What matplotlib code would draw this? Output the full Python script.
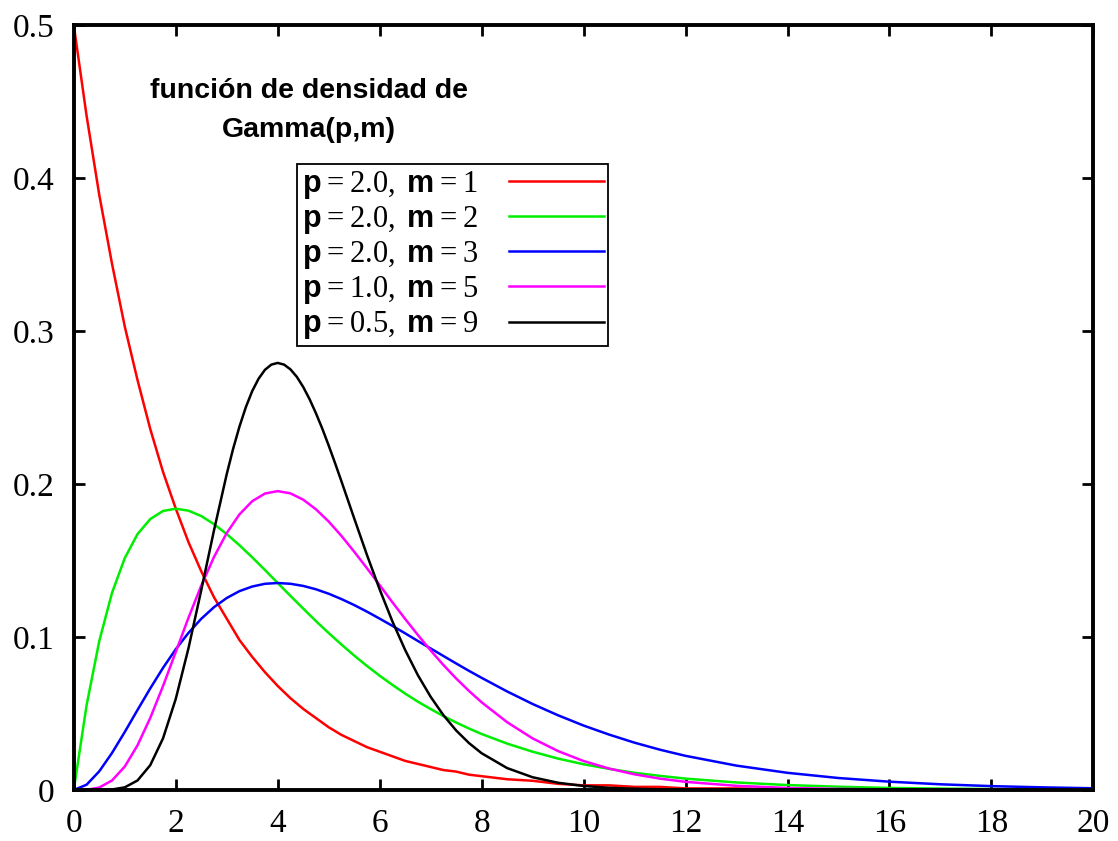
import numpy as np
import matplotlib.pyplot as plt

plt.rcParams['mathtext.fontset'] = 'custom'
plt.rcParams['mathtext.rm'] = 'Liberation Serif'
plt.rcParams['mathtext.bf'] = 'Liberation Sans:bold'

# x positions where the curves were read
x = [0, 0.25, 0.5, 0.75, 1, 1.25, 1.5, 1.75, 2, 2.25, 2.5, 2.75, 3, 3.25, 3.5, 3.75,
     4, 4.25, 4.5, 4.75, 5, 5.25, 5.5, 5.75, 6, 6.25, 6.5, 6.75, 7, 7.25, 7.5, 7.75,
     8, 8.5, 9, 9.5, 10, 10.5, 11, 11.5, 12, 13, 14, 15, 16, 17, 18, 19, 20]

# p = 2.0, m = 1
red = [0.5, 0.441, 0.389, 0.344, 0.303, 0.268, 0.236, 0.208, 0.184, 0.162, 0.143, 0.126,
       0.112, 0.098, 0.087, 0.077, 0.068, 0.060, 0.053, 0.047, 0.041, 0.036, 0.032, 0.028,
       0.025, 0.022, 0.019, 0.017, 0.015, 0.013, 0.012, 0.010, 0.009, 0.007, 0.006, 0.004,
       0.003, 0.003, 0.002, 0.002, 0.001, 0.001, 0.0005, 0.0003, 0.0002, 0.0001, 0.0001, 0.0, 0.0]

# p = 2.0, m = 2
green = [0, 0.0552, 0.0974, 0.1289, 0.1516, 0.1673, 0.1771, 0.1824, 0.1839, 0.1826, 0.1791,
         0.1738, 0.1673, 0.1600, 0.1521, 0.1438, 0.1353, 0.1269, 0.1186, 0.1104, 0.1026,
         0.0951, 0.0879, 0.0811, 0.0747, 0.0687, 0.0630, 0.0577, 0.0529, 0.0483, 0.0441,
         0.0402, 0.0366, 0.0303, 0.0250, 0.0205, 0.0168, 0.0138, 0.0112, 0.0092, 0.0074,
         0.0049, 0.0032, 0.0021, 0.0013, 0.0009, 0.0006, 0.0004, 0.0002]

# p = 2.0, m = 3
blue = [0, 0.0034, 0.0122, 0.0242, 0.0379, 0.0523, 0.0664, 0.0798, 0.0920, 0.1027, 0.1119,
        0.1195, 0.1255, 0.1300, 0.1330, 0.1348, 0.1353, 0.1348, 0.1334, 0.1312, 0.1283,
        0.1248, 0.1209, 0.1166, 0.1120, 0.1073, 0.1024, 0.0974, 0.0925, 0.0876, 0.0827,
        0.0779, 0.0733, 0.0644, 0.0562, 0.0488, 0.0421, 0.0362, 0.0309, 0.0263, 0.0223,
        0.0159, 0.0112, 0.0078, 0.0054, 0.0037, 0.0025, 0.0017, 0.0011]

# p = 1.0, m = 5
magenta = [0, 0.0001, 0.0016, 0.0062, 0.0153, 0.0292, 0.0471, 0.0679, 0.0902, 0.1126,
           0.1336, 0.1523, 0.1680, 0.1802, 0.1888, 0.1938, 0.1954, 0.1939, 0.1898, 0.1835,
           0.1755, 0.1661, 0.1558, 0.1450, 0.1339, 0.1227, 0.1118, 0.1013, 0.0912, 0.0817,
           0.0729, 0.0648, 0.0573, 0.0443, 0.0337, 0.0254, 0.0189, 0.0140, 0.0102, 0.0074,
           0.0053, 0.0027, 0.0013, 0.0007, 0.0003, 0.0001, 0.0001, 0.0, 0.0]

# p = 0.5, m = 9 (read more densely around the sharp peak)
black_x = [0, 0.5, 0.75, 1, 1.25, 1.5, 1.75, 2, 2.25, 2.5, 2.75, 3, 3.125, 3.25, 3.375,
           3.5, 3.625, 3.75, 3.875, 4, 4.125, 4.25, 4.375, 4.5, 4.625, 4.75, 4.875, 5,
           5.125, 5.25, 5.375, 5.5, 5.75, 6, 6.25, 6.5, 6.75, 7, 7.25, 7.5, 7.75, 8, 8.5,
           9, 9.5, 10, 10.5, 11, 11.5, 12, 13, 14, 20]
black = [0, 0.0, 0.0003, 0.0017, 0.0062, 0.0162, 0.0337, 0.0595, 0.0927, 0.1306, 0.1697,
         0.2065, 0.2230, 0.2376, 0.2503, 0.2608, 0.2689, 0.2747, 0.2781, 0.2792, 0.2781,
         0.2750, 0.2701, 0.2635, 0.2555, 0.2463, 0.2362, 0.2252, 0.2137, 0.2018, 0.1897,
         0.1776, 0.1537, 0.1311, 0.1102, 0.0915, 0.0750, 0.0609, 0.0489, 0.0389, 0.0307,
         0.0240, 0.0143, 0.0083, 0.0047, 0.0026, 0.0014, 0.0008, 0.0004, 0.0002, 0.00005,
         0.0, 0.0]

labels = [r'$\mathbf{p} = 2.0,\,\mathbf{m} = 1$',
          r'$\mathbf{p} = 2.0,\,\mathbf{m} = 2$',
          r'$\mathbf{p} = 2.0,\,\mathbf{m} = 3$',
          r'$\mathbf{p} = 1.0,\,\mathbf{m} = 5$',
          r'$\mathbf{p} = 0.5,\,\mathbf{m} = 9$']
colors = ['#ff0000', '#00ee00', '#0000ff', '#ff00ff', '#000000']

xticks = [0, 2, 4, 6, 8, 10, 12, 14, 16, 18, 20]
yticks = [0, 0.1, 0.2, 0.3, 0.4, 0.5]
ytick_labels = ['0', '0.1', '0.2', '0.3', '0.4', '0.5']

fig = plt.figure(figsize=(11.18, 8.41), dpi=100)
ax = fig.add_axes([0.066, 0.0607, 0.912, 0.9093])

xs = [x, x, x, x, black_x]
for xx, series, c, lab in zip(xs, [red, green, blue, magenta, black], colors, labels):
    ax.plot(xx, series, color=c, lw=1.8, label=lab)

ax.set_xlim(0, 20)
ax.set_ylim(0, 0.5)
ax.set_xticks(xticks)
ax.set_xticklabels([str(t) for t in xticks], fontfamily='Liberation Serif', fontsize=24)
ax.set_yticks(yticks)
ax.set_yticklabels(ytick_labels, fontfamily='Liberation Serif', fontsize=24)
ax.tick_params(direction='in', length=8, width=2, top=True, right=True)
ax.tick_params(axis='x', pad=13)
ax.tick_params(axis='y', pad=14)
for s in ax.spines.values():
    s.set_linewidth(2.8)

ax.text(0.2306, 0.888, 'función de densidad de\nGamma(p,m)', transform=ax.transAxes,
        ha='center', va='center', fontsize=20.5, fontweight='bold',
        family='Liberation Sans', linespacing=1.65)

leg = ax.legend(loc='upper left', bbox_to_anchor=(0.219, 0.818), borderaxespad=0,
                fontsize=22, markerfirst=False, handlelength=3.1, fancybox=False,
                framealpha=1, edgecolor='black', labelspacing=0.1, borderpad=0.15,
                handletextpad=1.0)
leg.get_frame().set_linewidth(1.3)

fig.savefig('out.png', dpi=100)
